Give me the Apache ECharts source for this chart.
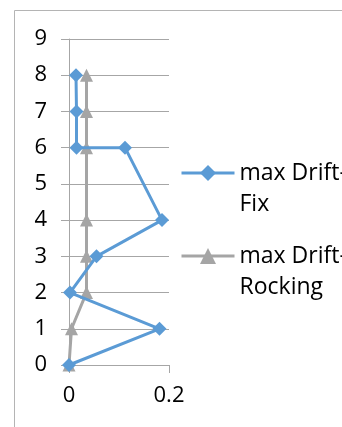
<!DOCTYPE html>
<html>
<head>
<meta charset="utf-8">
<script src="https://cdn.jsdelivr.net/npm/echarts@6/dist/echarts.min.js"></script>
<style>
  html, body { margin: 0; padding: 0; background: #fff; }
  #chart { width: 342px; height: 427px; }
</style>
</head>
<body>
<div id="chart"></div>
<script>
// story levels and max drift values
const fixStory = [0, 1, 2, 3, 4, 6, 6, 7, 8];
const fixDrift = [0, 0.181, 0.002, 0.055, 0.186, 0.112, 0.015, 0.015, 0.014];
const rockStory = [0, 1, 2, 3, 4, 6, 7, 8];
const rockDrift = [0, 0.005, 0.035, 0.035, 0.035, 0.035, 0.035, 0.035];
const xTicks = [0, 0.2];

const pairs = (xs, ys) => xs.map((x, i) => [x, ys[i]]);

const myChart = echarts.init(document.getElementById("chart"));
const gray = "#a6a6a6";
const font = "Open Sans";
const lh = 31;

const legendBase = {
  orient: "vertical",
  left: 180,
  padding: 0,
  itemWidth: 53,
  itemHeight: 20,
  lineStyle: { width: 3 },
  // blank first line so the icon lines up with the first text line
  formatter: (name) => " \n" + name.replace("-", "-\n"),
  textStyle: {
    fontFamily: font,
    fontSize: 23,
    color: "#000",
    lineHeight: lh,
  },
};

let option = {
  animation: false,
  graphic: [
    {
      type: "rect",
      shape: { x: 14.5, y: 10.5, width: 400, height: 500 },
      style: { fill: "none", stroke: "#b4b4b4", lineWidth: 1 },
      silent: true,
    },
  ],
  grid: { left: 69, right: 173, top: 39, bottom: 62 },
  legend: [
    Object.assign({}, legendBase, { top: 173 - 1.5 * lh, data: ["max Drift-Fix"] }),
    Object.assign({}, legendBase, { top: 256 - 1.5 * lh, data: ["max Drift-Rocking"] }),
  ],
  xAxis: {
    type: "value",
    min: 0,
    max: 0.2,
    interval: 0.2,
    splitLine: { show: false },
    axisLine: { lineStyle: { color: gray, width: 1 } },
    axisTick: { show: true, length: 8, customValues: xTicks, lineStyle: { color: gray } },
    axisLabel: {
      customValues: xTicks,
      margin: 20,
      fontFamily: font,
      fontSize: 22,
      color: "#000",
    },
  },
  yAxis: {
    type: "value",
    min: 0,
    max: 9,
    interval: 1,
    splitLine: { lineStyle: { color: gray, width: 1 } },
    axisLine: { show: true, lineStyle: { color: gray, width: 1 } },
    axisTick: { show: true, length: 8, lineStyle: { color: gray } },
    axisLabel: { margin: 22, fontFamily: font, fontSize: 22, color: "#000" },
  },
  series: [
    {
      name: "max Drift-Fix",
      type: "line",
      data: pairs(fixDrift, fixStory),
      symbol: "diamond",
      symbolSize: 14,
      color: "#5b9bd5",
      lineStyle: { width: 3 },
      z: 3,
    },
    {
      name: "max Drift-Rocking",
      type: "line",
      data: pairs(rockDrift, rockStory),
      symbol: "triangle",
      symbolSize: 13,
      color: "#a5a5a5",
      lineStyle: { width: 3 },
      z: 2,
    },
  ],
};

myChart.setOption(option);
</script>
</body>
</html>
